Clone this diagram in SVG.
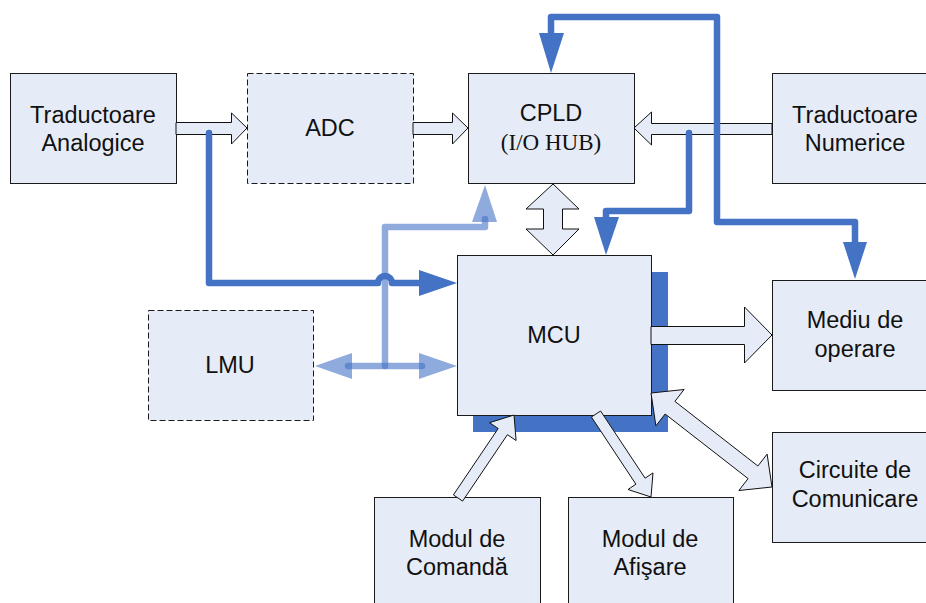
<svg xmlns="http://www.w3.org/2000/svg" width="926" height="603" viewBox="0 0 926 603">
  <style>
    .box { fill: #E6ECF7; stroke: #1a1a1a; stroke-width: 1; }
    .dash { fill: #E6ECF7; stroke: #1a1a1a; stroke-width: 1; stroke-dasharray: 6 3; }
    .lbl { font-family: "Liberation Sans", Arial, sans-serif; font-size: 23.5px; fill: #111; text-anchor: middle; }
    .ser { font-family: "Liberation Serif", "Times New Roman", serif; font-size: 23px; fill: #111; text-anchor: middle; }
    .blk { fill: #E6ECF7; stroke: #111; stroke-width: 1; stroke-linejoin: miter; }
    .bus { fill: none; stroke: #4472C4; stroke-width: 6.5; stroke-linejoin: round; stroke-linecap: round; }
    .bushead { fill: #4472C4; }
    .lt { fill: none; stroke: #4472C4; stroke-opacity: 0.6; stroke-width: 6.5; stroke-linejoin: round; stroke-linecap: round; }
    .lthead { fill: #4472C4; fill-opacity: 0.6; }
  </style>

  <!-- blocks (outlines on half-pixel positions for crisp 1px borders) -->
  <g id="traductoare-analogice">
    <rect class="box" x="10.5" y="73.5" width="166" height="110"/>
    <text class="lbl" x="93" y="123">Traductoare</text>
    <text class="lbl" x="93" y="151">Analogice</text>
  </g>
  <g id="adc">
    <rect class="dash" x="247.5" y="73.5" width="166" height="110"/>
    <text class="lbl" x="330" y="136">ADC</text>
  </g>
  <g id="cpld">
    <rect class="box" x="468.5" y="73.5" width="166" height="110"/>
    <text class="lbl" x="551" y="121">CPLD</text>
    <text class="ser" x="551" y="150">(I/O HUB)</text>
  </g>
  <g id="traductoare-numerice">
    <rect class="box" x="772.5" y="73.5" width="166" height="110"/>
    <text class="lbl" x="855" y="123">Traductoare</text>
    <text class="lbl" x="855" y="151">Numerice</text>
  </g>
  <g id="mcu">
    <rect x="473" y="272" width="195" height="160" fill="#4472C4"/>
    <rect class="box" x="457.5" y="255.5" width="194" height="160"/>
    <text class="lbl" x="554" y="343">MCU</text>
  </g>
  <g id="lmu">
    <rect class="dash" x="148.5" y="310.5" width="165" height="110"/>
    <text class="lbl" x="230" y="373">LMU</text>
  </g>
  <g id="mediu-de-operare">
    <rect class="box" x="772.5" y="280.5" width="166" height="110"/>
    <text class="lbl" x="855" y="328">Mediu de</text>
    <text class="lbl" x="855" y="357">operare</text>
  </g>
  <g id="circuite-de-comunicare">
    <rect class="box" x="772.5" y="432.5" width="166" height="110"/>
    <text class="lbl" x="855" y="478">Circuite de</text>
    <text class="lbl" x="855" y="507">Comunicare</text>
  </g>
  <g id="modul-de-comanda">
    <rect class="box" x="374.5" y="497.5" width="166" height="112"/>
    <text class="lbl" x="457" y="547">Modul de</text>
    <text class="lbl" x="457" y="575">Comandă</text>
  </g>
  <g id="modul-de-afisare">
    <rect class="box" x="568.5" y="497.5" width="165" height="112"/>
    <text class="lbl" x="650" y="547">Modul de</text>
    <text class="lbl" x="650" y="575">Afişare</text>
  </g>

  <!-- connectors -->
  <g id="connectors">
    <!-- hollow block arrows -->
    <path class="blk" d="M176,122.5 H231.5 V113 L247,128 L231.5,144 V134.5 H176 Z"/>
    <path class="blk" d="M413,122.5 H452.5 V113 L468,128 L452.5,144 V134.5 H413 Z"/>
    <path class="blk" d="M772,123.5 H651.5 V112 L634,128 L651.5,145 V134.5 H772 Z"/>
    <path class="blk" d="M553,184 L579,209 H562.5 V229 H579 L553,255 L526,229 H543.5 V209 H526 Z"/>
    <path class="blk" d="M651,326.5 H744.5 V307 L772,335 L744.5,363 V344.5 H651 Z"/>
    <path class="blk" d="M462.6,501.1 L507.4,434.7 L516.1,440.5 L514,415 L489.5,422.7 L498.2,428.5 L453.4,494.9 Z"/>
    <path class="blk" d="M591.4,417 L635.9,484.2 L628,489.5 L651,497 L653,472.9 L645.1,478.2 L600.6,411 Z"/>
    <path class="blk" d="M651,393 L655.9,425.9 L665.1,414 L748.1,478.6 L738.9,490.5 L772,487 L767.1,454.1 L757.9,466 L674.9,401.4 L684.1,389.5 Z"/>

    <!-- LMU bus (translucent) -->
    <path class="lt" d="M385,366 V227 H485 V219"/>
    <polygon class="lthead" points="472,222 485,185 497,222"/>
    <path class="lt" d="M348,366 H422"/>
    <polygon class="lthead" points="352,353 315,366 352,379"/>
    <polygon class="lthead" points="419,353 457,366 419,379"/>

    <!-- solid buses -->
    <path class="bus" d="M209,133 V283 H378 A7,7 0 0 1 392,283 H425"/>
    <polygon class="bushead" points="419,270 457,283 419,296"/>
    <path class="bus" d="M689,133 V211 H606 V222"/>
    <polygon class="bushead" points="594,217 606,255 619,217"/>
    <path class="bus" d="M551,38 V17 H717 V222 H855 V246"/>
    <polygon class="bushead" points="539,33 551,73 564,33"/>
    <polygon class="bushead" points="843,242 855,279 867,242"/>
  </g>
</svg>
